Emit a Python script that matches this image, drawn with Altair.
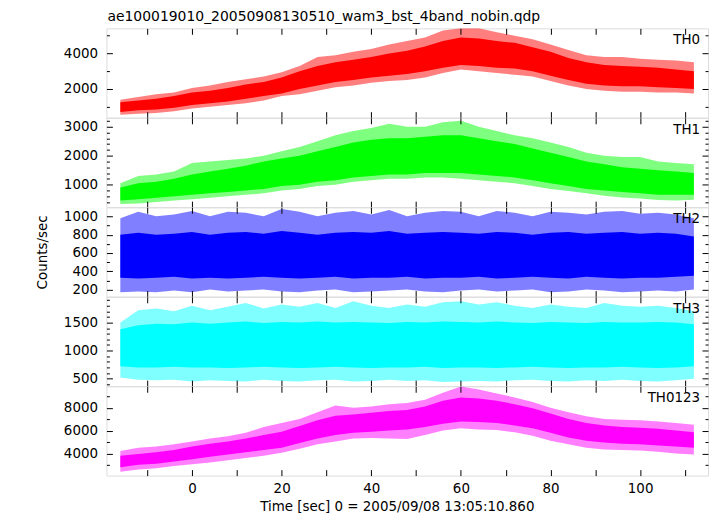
import altair as alt
import pandas as pd

# ---------------- data ----------------
times = [-16, -12, -8, -4, 0, 4, 8, 12, 16, 20, 24, 28, 32, 36, 40, 44, 48,
         52, 56, 60, 64, 68, 72, 76, 80, 84, 88, 92, 96, 100, 104, 108, 112]

# TH0: dense core band and spike envelope (counts/sec)
th0_lo = [700, 800, 850, 950, 1100, 1200, 1300, 1450, 1600, 1750, 2000, 2200, 2400, 2500, 2650, 2750, 2850,
          3000, 3200, 3350, 3300, 3200, 3150, 3000, 2750, 2500, 2300, 2200, 2150, 2150, 2100, 2050, 2000]
th0_hi = [1250, 1350, 1450, 1600, 1800, 1900, 2050, 2250, 2400, 2650, 3000, 3300, 3500, 3650, 3800, 4000, 4150,
          4400, 4700, 4900, 4850, 4700, 4600, 4350, 4100, 3750, 3500, 3350, 3300, 3250, 3200, 3100, 3000]
th0_slo = [550, 600, 650, 750, 900, 1000, 1100, 1200, 1350, 1600, 1700, 1900, 2100, 2200, 2350, 2450, 2500,
           2650, 2900, 3100, 3000, 2900, 2800, 2700, 2450, 2200, 2000, 1900, 1850, 1850, 1800, 1800, 1750]
th0_shi = [1400, 1550, 1700, 1800, 2050, 2200, 2400, 2550, 2700, 2950, 3300, 3800, 3900, 4100, 4250, 4500, 4700,
           4900, 5300, 5420, 5420, 5200, 5000, 4800, 4500, 4200, 3900, 3800, 3800, 3700, 3650, 3600, 3500]

# TH1
th1_lo = [450, 500, 550, 600, 650, 700, 750, 800, 850, 950, 1000, 1100, 1150, 1250, 1300, 1350, 1350,
          1400, 1400, 1400, 1350, 1300, 1250, 1150, 1050, 950, 850, 800, 750, 700, 650, 650, 650]
th1_hi = [900, 1050, 1100, 1200, 1350, 1450, 1550, 1650, 1800, 1900, 2000, 2150, 2300, 2450, 2550, 2600, 2600,
          2650, 2700, 2700, 2600, 2500, 2400, 2250, 2100, 1950, 1800, 1700, 1600, 1550, 1500, 1450, 1400]
th1_slo = [330, 350, 400, 450, 500, 550, 600, 650, 700, 800, 850, 950, 1000, 1100, 1150, 1200, 1200,
           1250, 1250, 1200, 1150, 1100, 1050, 950, 850, 780, 700, 620, 560, 520, 470, 450, 480]
th1_shi = [1050, 1300, 1350, 1450, 1750, 1800, 1850, 1900, 2000, 2150, 2300, 2500, 2700, 2850, 2950, 3100, 3000,
           3000, 3150, 3200, 3000, 2850, 2700, 2600, 2450, 2300, 2100, 2000, 1950, 1950, 1800, 1750, 1700]

# TH2
th2_lo = [330, 320, 330, 340, 320, 330, 320, 330, 340, 330, 320, 330, 340, 320, 330, 330, 340,
          320, 330, 330, 340, 320, 330, 340, 330, 320, 340, 330, 320, 330, 330, 340, 350]
th2_hi = [800, 820, 800, 810, 830, 800, 820, 830, 810, 840, 820, 800, 820, 830, 820, 840, 810,
          820, 830, 820, 810, 830, 820, 800, 820, 830, 810, 820, 830, 810, 820, 810, 780]
th2_slo = [170, 180, 170, 190, 170, 200, 180, 190, 200, 180, 170, 190, 200, 170, 180, 190, 200,
           180, 170, 190, 200, 180, 190, 200, 170, 180, 200, 190, 170, 180, 190, 180, 200]
th2_shi = [980, 1050, 1000, 1020, 1060, 1000, 1050, 1040, 1000, 1080, 1050, 1000, 1040, 1060, 1020, 1070, 1000,
           1040, 1060, 1050, 1000, 1060, 1040, 1000, 1050, 1040, 1020, 1050, 1060, 1030, 1040, 1020, 980]

# TH3
th3_lo = [720, 700, 700, 710, 700, 700, 690, 700, 710, 700, 690, 700, 710, 700, 690, 700, 700,
          710, 690, 700, 700, 690, 700, 710, 700, 690, 700, 700, 710, 700, 690, 700, 720]
th3_hi = [1380, 1450, 1480, 1470, 1500, 1480, 1500, 1520, 1490, 1510, 1500, 1520, 1500, 1510, 1500, 1490, 1510,
          1500, 1520, 1510, 1500, 1520, 1500, 1490, 1510, 1500, 1490, 1510, 1500, 1500, 1510, 1500, 1470]
th3_slo = [520, 480, 470, 480, 450, 470, 460, 450, 480, 460, 450, 470, 480, 450, 460, 480, 460,
           470, 440, 450, 460, 450, 470, 480, 460, 450, 470, 460, 480, 460, 450, 470, 500]
th3_shi = [1500, 1720, 1750, 1700, 1800, 1720, 1780, 1850, 1750, 1820, 1780, 1850, 1760, 1880, 1800, 1760, 1820,
           1780, 1860, 1880, 1820, 1860, 1800, 1760, 1820, 1780, 1760, 1850, 1800, 1780, 1800, 1760, 1700]

# TH0123
th4_lo = [2800, 3000, 3100, 3300, 3500, 3700, 3900, 4100, 4300, 4500, 4900, 5300, 5600, 5800, 5900, 6000, 6100,
          6300, 6600, 6800, 6750, 6650, 6450, 6200, 5800, 5400, 5100, 4950, 4850, 4800, 4700, 4600, 4500]
th4_hi = [3800, 3950, 4100, 4300, 4600, 4850, 5050, 5300, 5600, 5900, 6400, 6900, 7300, 7400, 7550, 7700, 7800,
          8100, 8600, 8900, 8800, 8600, 8300, 7950, 7500, 7000, 6650, 6450, 6300, 6250, 6150, 6000, 5850]
th4_slo = [2400, 2600, 2700, 2900, 3050, 3200, 3400, 3600, 3800, 4050, 4400, 4800, 5050, 5300, 5350, 5300, 5250,
           5600, 6000, 6200, 6100, 6050, 5850, 5550, 5100, 4800, 4500, 4350, 4300, 4250, 4150, 4000, 3900]
th4_shi = [4200, 4500, 4600, 4800, 5050, 5300, 5500, 5800, 6300, 6650, 7000, 7600, 8200, 8000, 8100, 8300, 8400,
           8700, 9300, 9850, 9600, 9250, 8900, 8500, 8000, 7600, 7250, 7000, 6950, 6900, 6800, 6650, 6500]

band_names = ["TH0", "TH1", "TH2", "TH3", "TH0123"]
band_colors = ["#ff0000", "#00ff00", "#0000ff", "#00ffff", "#ff00ff"]
band_domains = [[387, 5417], [225, 3305], [123, 1099], [367, 1959], [2061, 9870]]
band_major = [[2000, 4000], [1000, 2000, 3000], [200, 400, 600, 800, 1000], [500, 1000, 1500], [4000, 6000, 8000]]
band_minor = [[1000, 3000, 5000],
              [400, 600, 800, 1200, 1400, 1600, 1800, 2200, 2400, 2600, 2800, 3200],
              [300, 500, 700, 900],
              [400, 600, 700, 800, 900, 1100, 1200, 1300, 1400, 1600, 1700, 1800, 1900],
              [3000, 5000, 7000, 9000]]
band_series = [(th0_lo, th0_hi, th0_slo, th0_shi), (th1_lo, th1_hi, th1_slo, th1_shi),
               (th2_lo, th2_hi, th2_slo, th2_shi), (th3_lo, th3_hi, th3_slo, th3_shi),
               (th4_lo, th4_hi, th4_slo, th4_shi)]

x_ticks = [-10, 0, 10, 20, 30, 40, 50, 60, 70, 80, 90, 100, 110]
x_labels = [0, 20, 40, 60, 80, 100]

title_text = "ae100019010_20050908130510_wam3_bst_4band_nobin.qdp"
x_title = "Time [sec] 0 = 2005/09/08 13:05:10.860"
y_title = "Counts/sec"

# ---------------- chart ----------------
FONT = "DejaVu Sans"
FS = 13.5
W = 605
H = 89.8
XDOM = [-19.1, 115.15]


def tick_axis(orient, vals, size):
    return alt.Axis(orient=orient, values=vals, labels=False, domain=False, grid=False,
                    ticks=True, tickSize=size, offset=-size, tickColor="black",
                    tickWidth=1, title=None, zindex=1)


def panel(i):
    lo, hi, slo, shi = band_series[i]
    df = pd.DataFrame({"t": times, "clo": lo, "chi": hi, "slo": slo, "shi": shi})
    color = band_colors[i]
    xs = alt.Scale(domain=XDOM, nice=False, zero=False)
    ys = alt.Scale(domain=band_domains[i], nice=False, zero=False)

    ylab = dict(orient="left", values=band_major[i], format="d", ticks=False, tickSize=0,
                domain=False, grid=False, labelPadding=9, labelFlush=False, labelOverlap=False,
                labelFont=FONT, labelFontSize=FS, labelColor="black")
    if i == 2:
        ylab.update(title=y_title, titlePadding=14, titleFont=FONT, titleFontSize=FS,
                    titleFontWeight="normal", titleColor="black")
    else:
        ylab.update(title=None)

    base = alt.Chart(df)
    spikes = base.mark_area(color=color, opacity=0.5, clip=True).encode(
        x=alt.X("t:Q", scale=xs, axis=tick_axis("bottom", x_ticks, 6)),
        y=alt.Y("slo:Q", scale=ys, axis=alt.Axis(**ylab)),
        y2="shi:Q",
    )
    core = base.mark_area(color=color, clip=True).encode(
        x=alt.X("t:Q", scale=xs, axis=tick_axis("top", x_ticks, 6)),
        y=alt.Y("clo:Q", scale=ys, axis=tick_axis("left", band_major[i], 6)),
        y2="chi:Q",
    )
    if i == 4:
        xax = alt.Axis(orient="bottom", values=x_labels, format="d", ticks=False, tickSize=0,
                       domain=False, grid=False, labelPadding=6, labelFlush=False, labelFont=FONT,
                       labelFontSize=FS, labelColor="black", title=x_title, titlePadding=5,
                       titleFont=FONT, titleFontSize=FS, titleFontWeight="normal",
                       titleColor="black", titleX=292, titleAlign="center")
    else:
        xax = None
    d3 = base.mark_area(opacity=0, clip=True).encode(
        x=alt.X("t:Q", scale=xs, axis=xax),
        y=alt.Y("clo:Q", scale=ys, axis=tick_axis("left", band_minor[i], 3)),
        y2="chi:Q",
    )
    d4 = base.mark_area(opacity=0, clip=True).encode(
        x=alt.X("t:Q", scale=xs, axis=None),
        y=alt.Y("clo:Q", scale=ys, axis=tick_axis("right", band_major[i], 6)),
        y2="chi:Q",
    )
    d5 = base.mark_area(opacity=0, clip=True).encode(
        x=alt.X("t:Q", scale=xs, axis=None),
        y=alt.Y("clo:Q", scale=ys, axis=tick_axis("right", band_minor[i], 3)),
        y2="chi:Q",
    )
    label = alt.Chart(alt.Data(values=[{"label": band_names[i]}])).mark_text(
        align="right", baseline="alphabetic", font=FONT, fontSize=FS, color="black"
    ).encode(x=alt.value(597), y=alt.value(16), text="label:N")

    layers = [spikes, core, d3, d4, d5, label]
    if i == 0:
        head = alt.Chart(alt.Data(values=[{"label": title_text}])).mark_text(
            align="left", baseline="top", font=FONT, fontSize=14, color="black"
        ).encode(x=alt.value(1), y=alt.value(-18.5), text="label:N")
        layers.append(head)

    return alt.layer(*layers).resolve_axis(
        x="independent", y="independent").properties(width=W, height=H)


chart = alt.vconcat(*[panel(i) for i in range(5)], spacing=0, bounds="flush").properties(
    padding={"left": 27, "top": 0, "right": 0, "bottom": 0}
).configure_view(stroke="black", strokeWidth=1).configure(font=FONT)

chart.save("out.html", embed_options={"renderer": "svg", "actions": False})
